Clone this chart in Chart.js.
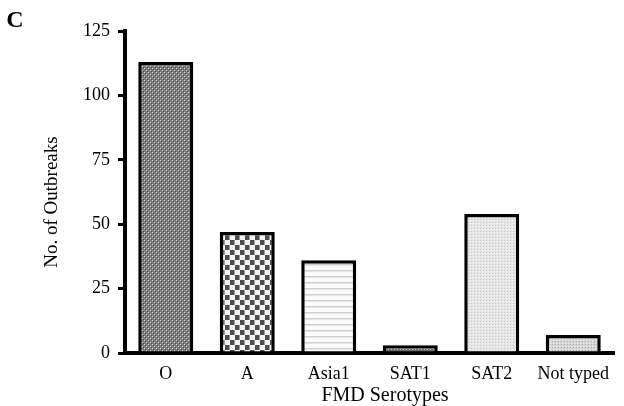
<!DOCTYPE html>
<html>
<head>
<meta charset="utf-8">
<script src="https://cdn.jsdelivr.net/npm/chart.js@4.4.1/dist/chart.umd.min.js"></script>
<style>
  html,body{margin:0;padding:0;background:#fff;}
  #wrap{width:624px;height:406px;position:relative;}
</style>
</head>
<body>
<div id="wrap"><canvas id="c" width="624" height="406"></canvas></div>
<script>
const serotypes = ['O','A','Asia1','SAT1','SAT2','Not typed'];
const outbreaks = [113, 47, 36, 3, 54, 7];
const yTicks = [0, 25, 50, 75, 100, 125];
const SERIF = '"Liberation Serif", "Times New Roman", serif';

// small tiles used as bar fills
function tile(w, h, draw){
  const c = document.createElement('canvas'); c.width=w; c.height=h;
  const g = c.getContext('2d'); draw(g);
  return document.getElementById('c').getContext('2d').createPattern(c,'repeat');
}
const fills = [
  tile(4,4,g=>{ g.fillStyle='#7c7c7c'; g.fillRect(0,0,4,4);
    g.fillStyle='#d8d8d8'; g.fillRect(0,0,1,1); g.fillRect(2,2,1,1);
    g.fillStyle='#4a4a4a'; g.fillRect(1,1,1,1); g.fillRect(3,3,1,1); }),
  tile(10,10,g=>{ g.fillStyle='#f4f4f4'; g.fillRect(0,0,10,10);
    g.fillStyle='#4e4e4e'; g.fillRect(0,0,5,5); g.fillRect(5,5,5,5);
    g.fillStyle='#9a9a9a'; g.fillRect(4,0,1,5); g.fillRect(9,5,1,5); }),
  tile(6,6,g=>{ g.fillStyle='#fbfbfb'; g.fillRect(0,0,6,6);
    g.fillStyle='#cfcfcf'; g.fillRect(0,0,6,1.5); }),
  tile(3,3,g=>{ g.fillStyle='#6a6a6a'; g.fillRect(0,0,3,3);
    g.fillStyle='#bdbdbd'; g.fillRect(1,1,1,1); }),
  tile(3,3,g=>{ g.fillStyle='#e6e6e6'; g.fillRect(0,0,3,3);
    g.fillStyle='#c6c6c6'; g.fillRect(0,0,1,1); g.fillStyle='#f6f6f6'; g.fillRect(2,1,1,1); }),
  tile(3,3,g=>{ g.fillStyle='#d4d4d4'; g.fillRect(0,0,3,3);
    g.fillStyle='#f2f2f2'; g.fillRect(1,1,1,1); g.fillStyle='#ababab'; g.fillRect(0,2,1,1); })
];

const Labels = {
  id:'labels',
  afterDraw(chart){
    const {ctx} = chart;
    ctx.save();
    ctx.fillStyle='#000'; ctx.textAlign='center'; ctx.textBaseline='middle';
    ctx.font='bold 24px '+SERIF;
    ctx.fillText('C', 15, 21);
    ctx.font='20px '+SERIF;
    ctx.fillText('FMD Serotypes', 385, 396);
    ctx.font='19px '+SERIF;
    ctx.translate(52, 202); ctx.rotate(-Math.PI/2);
    ctx.fillText('No. of Outbreaks', 0, 0);
    ctx.restore();
  }
};

new Chart(document.getElementById('c'), {
  type:'bar',
  data:{labels:serotypes,
    datasets:[{data:outbreaks, backgroundColor:fills, borderColor:'#000', borderWidth:3.5,
      categoryPercentage:1, barPercentage:0.675}]},
  options:{
    responsive:false, animation:false,
    layout:{padding:{left:0, right:10, top:31, bottom:0}},
    plugins:{legend:{display:false}, tooltip:{enabled:false}},
    scales:{
      x:{
        grid:{display:false},
        border:{display:true, color:'#000', width:4},
        ticks:{color:'#000', font:{family:SERIF, size:18}, padding:2, maxRotation:0},
        afterFit(s){ s.height = 53; }
      },
      y:{
        min:0, max:125,
        afterBuildTicks(s){ s.ticks = yTicks.map(v=>({value:v})); },
        grid:{drawOnChartArea:false, drawTicks:true, tickLength:7, color:'#000', lineWidth:3},
        border:{display:true, color:'#000', width:4},
        ticks:{color:'#000', font:{family:SERIF, size:18}, padding:8},
        afterFit(s){ s.width = 125; }
      }
    }
  },
  plugins:[Labels]
});
</script>
</body>
</html>
